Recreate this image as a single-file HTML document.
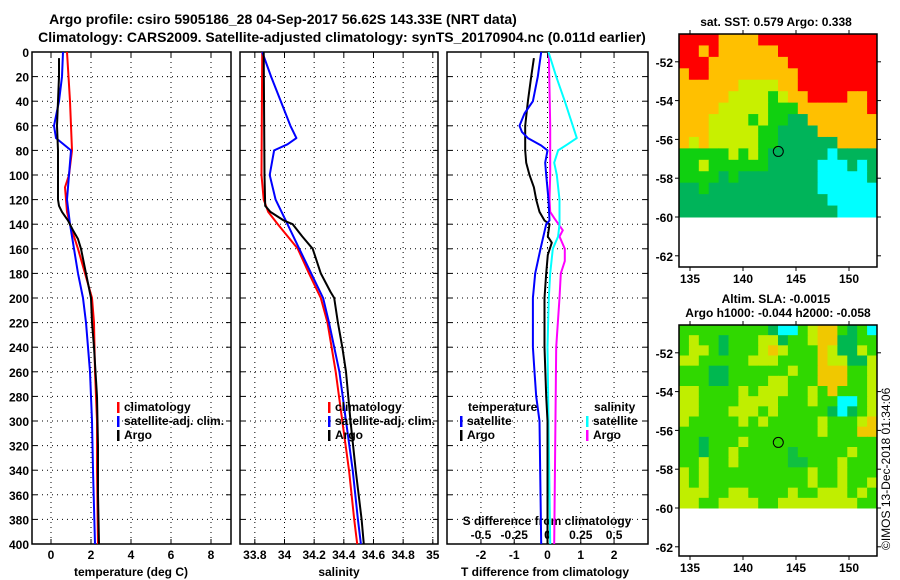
<!DOCTYPE html>
<html><head><meta charset="utf-8"><style>
body{margin:0;background:#fff;}
svg{display:block;font-family:"Liberation Sans",sans-serif;font-weight:bold;}
</style></head><body>
<svg id="c" width="900" height="580" viewBox="0 0 900 580">
<text x="283" y="24" font-size="14" text-anchor="middle">Argo profile: csiro 5905186_28 04-Sep-2017 56.62S 143.33E (NRT data)</text>
<text x="342" y="42" font-size="14" text-anchor="middle">Climatology: CARS2009. Satellite-adjusted climatology: synTS_20170904.nc (0.011d earlier)</text>
<text x="776" y="26" font-size="12" text-anchor="middle">sat. SST: 0.579 Argo: 0.338</text>
<text x="776" y="303" font-size="12" text-anchor="middle">Altim. SLA: -0.0015</text>
<text x="778" y="317" font-size="12" text-anchor="middle">Argo h1000: -0.044 h2000: -0.058</text>
<text transform="translate(890,550) rotate(-90)" font-size="12" font-weight="normal">©IMOS 13-Dec-2018 01:34:06</text>
</svg>
<script>
// ---------- data ----------
const depthTicks=[0,20,40,60,80,100,120,140,160,180,200,220,240,260,280,300,320,340,360,380,400];
const tempTicks=[0,2,4,6,8];
const salTicks=[33.8,34,34.2,34.4,34.6,34.8,35];
const salTickLabels=["33.8","34","34.2","34.4","34.6","34.8","35"];
const tdiffTicks=[-2,-1,0,1,2];
const sdiffTicks=[-0.5,-0.25,0,0.25,0.5];
const sdiffTickLabels=["-0.5","-0.25","0","0.25","0.5"];

const tClimDepth=[0,40,80,100,110,130,140,160,180,200,220,260,300,340,400];
const tClim=[0.8,0.95,1.05,0.9,0.7,0.8,0.95,1.35,1.7,2.05,2.15,2.2,2.3,2.3,2.35];
const tSatDepth=[0,20,40,60,70,80,100,120,140,160,180,200,220,240,260,300,340,400];
const tSat=[0.6,0.55,0.4,0.15,0.25,1.0,0.9,0.8,0.95,1.15,1.35,1.6,1.75,1.85,1.95,2.05,2.1,2.2];
const tArgoDepth=[5,20,40,60,80,100,120,125,130,137,145,152,160,180,200,220,240,280,320,360,400];
const tArgo=[0.4,0.4,0.35,0.3,0.35,0.35,0.35,0.4,0.55,0.85,1.1,1.35,1.5,1.75,2.0,2.05,2.15,2.3,2.35,2.35,2.4];

const sClimDepth=[0,100,120,130,140,160,180,200,220,260,300,340,380,400];
const sClim=[33.85,33.845,33.86,33.89,33.955,34.09,34.165,34.245,34.29,34.345,34.39,34.435,34.47,34.49];
const sSatDepth=[0,20,40,60,70,75,80,90,100,120,140,160,180,200,220,260,300,340,380,400];
const sSat=[33.85,33.91,33.975,34.04,34.08,34.02,33.93,33.915,33.9,33.94,34.02,34.1,34.18,34.26,34.3,34.37,34.415,34.46,34.495,34.515];
const sArgoDepth=[0,100,125,130,137,140,150,160,180,195,200,220,240,260,300,340,380,400];
const sArgo=[33.86,33.865,33.87,33.905,33.995,34.055,34.12,34.19,34.245,34.31,34.335,34.36,34.39,34.415,34.445,34.48,34.52,34.535];

const dtSatDepth=[0,20,40,50,60,65,70,76,80,90,100,120,137,140,160,180,200,240,260,280,300,400];
const dtSat=[-0.19,-0.29,-0.44,-0.69,-0.84,-0.77,-0.59,-0.19,0,-0.07,-0.04,0.03,0.06,-0.04,-0.21,-0.37,-0.44,-0.44,-0.39,-0.34,-0.24,-0.19];
const dtArgoDepth=[5,20,40,60,80,90,100,110,120,130,137,140,150,155,165,180,200,240,280,300,400];
const dtArgo=[-0.41,-0.49,-0.59,-0.67,-0.67,-0.64,-0.54,-0.41,-0.34,-0.24,-0.09,0.06,0.01,0.13,0.01,-0.04,-0.09,-0.09,-0.04,0,0];
const dsSatDepth=[0,20,40,60,70,75,80,90,100,120,140,150,160,180,200,240,400];
const dsSat=[0.0075,0.065,0.13,0.19,0.22,0.15,0.08,0.05,0.07,0.09,0.09,0.08,0.04,0.02,0.01,0.0,0.02];
const dsArgoDepth=[0,60,100,120,130,135,145,150,160,170,180,200,240,400];
const dsArgo=[0.01,0.02,0.02,0.015,0.02,0.05,0.115,0.09,0.13,0.13,0.1,0.09,0.065,0.05];

// map grids (one char per cell)
const sstGrid=[
"RRRROOOORRRRRRRRRRRR","RRORAOOOOORRRRRRRRRR","RRROOOOOOOORRRRRRRRR","ORROOOOOOOOORRRRRRRR",
"OOOOOOYYYYOORRRRRRRR","OOOOOYYYYGYOORRRROOR","OOOOYYYYYGGGOOOOOOOR","OOOYYYYGYGGDDOOOOOOO",
"OOOYYYYYGGDDDDOOOOOO","OYOYYYYYGGDDDDDDOOOO","GGGGGYGYGDDDDDDCDDDD","GGYGGGGGGDDDDDCCCDCD",
"GGGGDGDDDDDDDDCCCCCD","DDGDDDDDDDDDDDCCCCCC","DDDDDDDDDDDDDDDCCCCC","DDDDDDDDDDDDDDDDCCCC"];
const slaGrid=[
"GGGGGGGGGDCCGLOOGDGC","GLGGDGGGLLDGGLOODDGG","GLLGDGGGLOLGGGOLDDLG","LLGGGGGLLLGGGGOLLDDL",
"GGGDDGGGGGGLGGOOOGGL","GGGDDGGGGLLGGGOOOGGL","LLGGGGLGLLLGGLGOGGGL","LLGGGGLLLLGGGLGGCCGL",
"LLGGGLLLGLGGGGGDCDGL","LGGGGGLGLGGGGGLGGGLO","GGGGGGGGGGGGGGLGGGOO","GGDGGGLGGGGGGGGGGGGG",
"GGDGGLGGGGGMGGGGGLGG","GGLGGLGGGGGMMGGGLGGG","LGLGGGGGGGGGGLGGLGGG","LGLGGGGGGGGGGLGGLGGL",
"LLLGGLLGGGGLGGLLLGLG","LLGGLLLLGGLLLLLLLLGG"];
const latTicks=[-52,-54,-56,-58,-60,-62];
const lonTicks=[135,140,145,150];
const argoLat=-56.62, argoLon=143.33;

// ---------- drawing ----------
const svg=document.getElementById('c');
const NS='http://www.w3.org/2000/svg';
function mk(tag,attrs,parent){const e=document.createElementNS(NS,tag);for(const k in attrs)e.setAttribute(k,attrs[k]);(parent||svg).appendChild(e);return e;}
const Y0=52,Y1=544;
function yD(d){return Y0+(d/400)*(Y1-Y0);}
const panels=[
 {x0:32,x1:231,vmin:-0.95,vmax:9.0,name:'temperature-panel'},
 {x0:240,x1:438,vmin:33.70,vmax:35.035,name:'salinity-panel'},
 {x0:447,x1:648,vmin:-3.02,vmax:3.02,name:'difference-panel'}];
function xs(p,v){return p.x0+(v-p.vmin)/(p.vmax-p.vmin)*(p.x1-p.x0);}
function xsS(v){const p=panels[2];return xs(p,v*4);}

function grid(p,ticks,fx){
 const g=mk('g',{});
 
 
 depthTicks.forEach(d=>{if(d>0&&d<400)mk('line',{x1:p.x0,x2:p.x1,y1:yD(d),y2:yD(d),stroke:'#000','stroke-width':1,'stroke-dasharray':'1,4'},g);
   mk('line',{x1:p.x0,x2:p.x0+5,y1:yD(d),y2:yD(d),stroke:'#000'},g);mk('line',{x1:p.x1,x2:p.x1-5,y1:yD(d),y2:yD(d),stroke:'#000'},g);});
 ticks.forEach(v=>{const x=fx(v);mk('line',{x1:x,x2:x,y1:Y0,y2:Y1,stroke:'#000','stroke-dasharray':'1,4'},g);
   mk('line',{x1:x,x2:x,y1:Y1,y2:Y1-5,stroke:'#000'},g);mk('line',{x1:x,x2:x,y1:Y0,y2:Y0+5,stroke:'#000'},g);});
 const r=mk('rect',{x:p.x0,y:Y0,width:p.x1-p.x0,height:Y1-Y0,fill:'none',stroke:'#000','stroke-width':1.5},g);
 
 
}
grid(panels[0],tempTicks,v=>xs(panels[0],v));
grid(panels[1],salTicks,v=>xs(panels[1],v));
grid(panels[2],tdiffTicks,v=>xs(panels[2],v));

depthTicks.forEach(d=>{const t=mk('text',{x:29,y:yD(d)+5,'font-size':12,'text-anchor':'end'});t.textContent=d;
 
 });
tempTicks.forEach(v=>{const t=mk('text',{x:xs(panels[0],v),y:559,'font-size':12,'text-anchor':'middle'});t.textContent=v;
 
 });
salTicks.forEach((v,i)=>{const t=mk('text',{x:xs(panels[1],v),y:559,'font-size':12,'text-anchor':'middle'});t.textContent=salTickLabels[i];
 
 });
tdiffTicks.forEach(v=>{const t=mk('text',{x:xs(panels[2],v),y:559,'font-size':12,'text-anchor':'middle'});t.textContent=v;
 
 });
sdiffTicks.forEach((v,i)=>{const t=mk('text',{x:xsS(v),y:539,'font-size':12,'text-anchor':'middle'});t.textContent=sdiffTickLabels[i];
 
 });
[[131,'temperature (deg C)','x-axis-title-temperature'],[339,'salinity','x-axis-title-salinity'],[545,'T difference from climatology','x-axis-title-tdiff']].forEach(a=>{
 const t=mk('text',{x:a[0],y:576,'font-size':12,'text-anchor':'middle'});t.textContent=a[1];
 
 });
{const t=mk('text',{x:547,y:525,'font-size':12,'text-anchor':'middle'});t.textContent='S difference from climatology';
 
 }

function line(depths,vals,fx,color,name){
 const pts=depths.map((d,i)=>fx(vals[i]).toFixed(1)+','+yD(d).toFixed(1)).join(' ');
 const e=mk('polyline',{points:pts,fill:'none',stroke:color,'stroke-width':2,'stroke-linejoin':'round'});
 
 
}
const fT=v=>xs(panels[0],v), fS=v=>xs(panels[1],v), fDT=v=>xs(panels[2],v);
line(tClimDepth,tClim,fT,'#ff0000','temp-climatology-line');
line(tSatDepth,tSat,fT,'#0000ff','temp-satellite-line');
line(tArgoDepth,tArgo,fT,'#000','temp-argo-line');
line(sClimDepth,sClim,fS,'#ff0000','sal-climatology-line');
line(sSatDepth,sSat,fS,'#0000ff','sal-satellite-line');
line(sArgoDepth,sArgo,fS,'#000','sal-argo-line');
line(dsArgoDepth,dsArgo,xsS,'#ff00ff','sdiff-argo-line');
line(dsSatDepth,dsSat,xsS,'#00ffff','sdiff-satellite-line');
line(dtArgoDepth,dtArgo,fDT,'#000','tdiff-argo-line');
line(dtSatDepth,dtSat,fDT,'#0000ff','tdiff-satellite-line');

function legend(x,y,color,label,name){
 const g=mk('g',{});
 
 
 mk('rect',{x:x,y:y-9,width:2.5,height:11,fill:color},g);
 const t=mk('text',{x:x+7,y:y,'font-size':12},g);t.textContent=label;
}
legend(117,411,'#ff0000','climatology','legend-temp-climatology');
legend(117,425,'#0000ff','satellite-adj. clim.','legend-temp-satellite');
legend(117,439,'#000','Argo','legend-temp-argo');
legend(328,411,'#ff0000','climatology','legend-sal-climatology');
legend(328,425,'#0000ff','satellite-adj. clim.','legend-sal-satellite');
legend(328,439,'#000','Argo','legend-sal-argo');
{const t=mk('text',{x:468,y:411,'font-size':12});t.textContent='temperature';
 
 
 const u=mk('text',{x:594,y:411,'font-size':12});u.textContent='salinity';
 
 }
legend(460,425,'#0000ff','satellite','legend-tdiff-satellite');
legend(460,439,'#000','Argo','legend-tdiff-argo');
legend(586,425,'#00ffff','satellite','legend-sdiff-satellite');
legend(586,439,'#ff00ff','Argo','legend-sdiff-argo');

const colors={R:'#ff0000',O:'#ffc000',A:'#ffc000',Y:'#c8f000',G:'#10d010',D:'#00b45a',C:'#00ffff',
 L:'#c0f000',M:'#00c040',B:'#0000ff'};
const slaColors={G:'#30d800',L:'#c0ee00',D:'#00b850',M:'#10c040',O:'#f0c800',C:'#00ffff',B:'#0000ff'};
function drawMap(gridArr,pal,x0,x1,yTop,yData,yBot,name){
 const g=mk('g',{});
 
 
 const rows=gridArr.length,cols=gridArr[0].length,cw=(x1-x0)/cols,ch=(yData-yTop)/rows;
 gridArr.forEach((row,r)=>{for(let c=0;c<cols;c++){
  mk('rect',{x:(x0+c*cw).toFixed(2),y:(yTop+r*ch).toFixed(2),width:(cw+0.5).toFixed(2),height:(ch+0.5).toFixed(2),fill:pal[row[c]]},g);}});
 const yLat=l=>yData-(l+60)*19.4;
 const xLon=l=>690+(l-135)*10.6;
 mk('rect',{x:x0,y:yTop,width:x1-x0,height:yBot-yTop,fill:'none',stroke:'#000','stroke-width':1.5},g);
 latTicks.forEach(l=>{const y=yLat(l);if(y<yTop||y>yBot)return;
  mk('line',{x1:x0,x2:x0-4,y1:y,y2:y,stroke:'#000'},g);mk('line',{x1:x1,x2:x1+4,y1:y,y2:y,stroke:'#000'},g);
  const t=mk('text',{x:x0-6,y:y+5,'font-size':12,'text-anchor':'end'},g);t.textContent=l;
  
  });
 lonTicks.forEach(l=>{const x=xLon(l);
  mk('line',{x1:x,x2:x,y1:yBot,y2:yBot+4,stroke:'#000'},g);mk('line',{x1:x,x2:x,y1:yTop,y2:yTop-4,stroke:'#000'},g);
  const t=mk('text',{x:x,y:yBot+16,'font-size':12,'text-anchor':'middle'},g);t.textContent=l;
  
  });
 const c=mk('circle',{cx:xLon(argoLon),cy:yLat(argoLat),r:5,fill:'none',stroke:'#000','stroke-width':1},g);
 
 
}
drawMap(sstGrid,colors,679,877,34,217,267,'sst-map');
drawMap(slaGrid,slaColors,679,877,325,508,556,'sla-map');
</script>
</body></html>
